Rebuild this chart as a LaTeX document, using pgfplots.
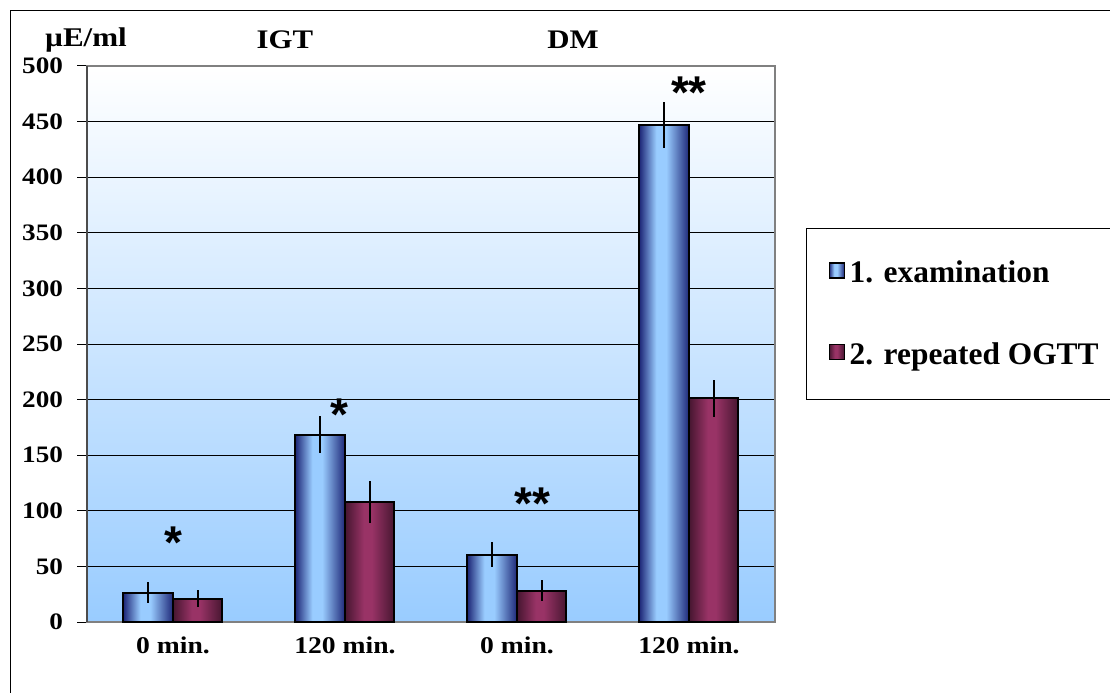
\documentclass[border=0pt]{standalone}
\usepackage{fontspec}
\setmainfont{Liberation Serif}
\newfontfamily\sfont{Liberation Serif}[FakeStretch=1.15]
\newfontfamily\astfont{Liberation Sans}
\usepackage{pgfplots}
\pgfplotsset{compat=1.18}

\definecolor{navybar}{RGB}{30,40,120}
\definecolor{lightbar}{RGB}{153,204,255}
\definecolor{darkred}{RGB}{70,22,48}
\definecolor{redbar}{RGB}{153,51,102}
\definecolor{bgblue}{RGB}{153,204,255}

\pgfdeclarehorizontalshading{bluebar}{100bp}{color(0bp)=(navybar); color(25bp)=(navybar); color(42bp)=(lightbar); color(52bp)=(lightbar); color(75bp)=(navybar); color(100bp)=(navybar)}
\pgfdeclarehorizontalshading{redbarsh}{100bp}{color(0bp)=(darkred); color(25bp)=(darkred); color(44bp)=(redbar); color(52bp)=(redbar); color(75bp)=(darkred); color(100bp)=(darkred)}

\pgfplotsset{
  errstyle/.style={error bars/y dir=both, error bars/y explicit, error bars/error mark=none,
    error bars/error bar style={line width=0.8pt, black}},
  bluestyle/.style={draw=black, line width=1pt, shade, shading=bluebar, bar shift=-12.375pt,
    legend image code/.code={\draw[draw=black, line width=0.6pt, shade, shading=bluebar] (0pt,-2.5pt) rectangle (7.5pt,5pt);},
    errstyle},
  redstyle/.style={draw=black, line width=1pt, shade, shading=redbarsh, bar shift=12.375pt,
    legend image code/.code={\draw[draw=black, line width=0.6pt, shade, shading=redbarsh] (0pt,-2.5pt) rectangle (7.5pt,5pt);},
    errstyle},
}

\begin{document}
\begin{tikzpicture}
\useasboundingbox (0,0) rectangle (555pt,346pt);
\draw[black, line width=0.5pt] (5pt,-10pt) -- (5pt,340.5pt) -- (570pt,340.5pt);
\begin{axis}[
  at={(43.5pt,35pt)}, anchor=south west,
  scale only axis, width=344pt, height=278pt,
  ymin=0, ymax=500, ytick={0,50,...,500},
  xmin=-0.5, xmax=3.5, xtick={0,1,2,3},
  xticklabels={0 min.,120 min.,0 min.,120 min.},
  ybar=0pt, bar width=24.75pt,
  ymajorgrids, grid style={black, line width=0.5pt},
  axis line style={draw=gray, line width=1pt},
  tick align=outside, major tick length=5pt,
  tick pos=left,
  ytick style={black, line width=0.5pt},
  xtick style={draw=none},
  axis background/.style={top color=white, bottom color=bgblue},
  clip=false,
  /pgf/number format/assume math mode=true,
  yticklabel style={font=\sfont\bfseries\fontsize{11.8}{12}\selectfont, xshift=-3.5pt},
  xticklabel style={font=\sfont\bfseries\fontsize{12}{12}\selectfont, yshift=1pt},
  legend style={at={(1.0451,0.7086)}, anchor=north west, draw=black, line width=0.5pt,
    fill=white, font=\bfseries\fontsize{15.7}{16}\selectfont,
    inner xsep=11pt, inner ysep=14pt, row sep=24.5pt, column sep=0.5pt},
  legend cell align=left,
]
% 1. examination
\addplot[bluestyle] coordinates {(0,26.4) +- (0,9.5)};
\addlegendentry{1. examination}
% 2. repeated OGTT
\addplot[redstyle] coordinates {(0,21) +- (0,7.6)};
\addlegendentry{2. repeated OGTT}
\addplot[forget plot, bluestyle] coordinates {(1,168.4) +- (0,16.6)};
\addplot[forget plot, bluestyle] coordinates {(2,60.7) +- (0,10.8)};
\addplot[forget plot, bluestyle] coordinates {(3,447) +- (0,20.5)};
\addplot[forget plot, redstyle] coordinates {(1,108.2) +- (0,18.9)};
\addplot[forget plot, redstyle] coordinates {(2,28) +- (0,9.4)};
\addplot[forget plot, redstyle] coordinates {(3,201) +- (0,16.2)};
\draw[black!70, line width=1pt] (rel axis cs:0,0) -- (rel axis cs:0,1);
\node[anchor=base, font=\astfont\bfseries\fontsize{23}{23}\selectfont] at (axis cs:0,57) {*};
\node[anchor=base, font=\astfont\bfseries\fontsize{23}{23}\selectfont] at (axis cs:0.97,172) {*};
\node[anchor=base, font=\astfont\bfseries\fontsize{23}{23}\selectfont] at (axis cs:2.09,92) {**};
\node[anchor=base, font=\astfont\bfseries\fontsize{23}{23}\selectfont] at (axis cs:3.0,462) {**};
\end{axis}
\node[anchor=base, font=\sfont\bfseries\fontsize{13.5}{14}\selectfont] at (43pt,322.5pt) {µE/ml};
\node[anchor=base, font=\sfont\bfseries\fontsize{13.4}{14}\selectfont] at (142.5pt,321.5pt) {IGT};
\node[anchor=base, font=\sfont\bfseries\fontsize{13.4}{14}\selectfont] at (286.5pt,321.5pt) {DM};
\end{tikzpicture}
\end{document}
